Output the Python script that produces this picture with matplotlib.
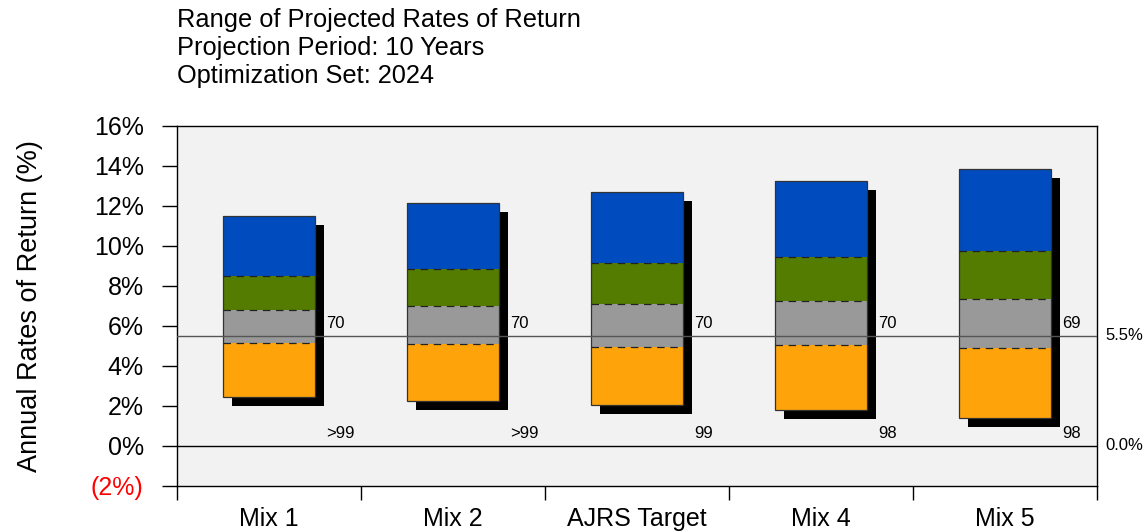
import matplotlib
matplotlib.use("Agg")
import matplotlib.pyplot as plt
import matplotlib.transforms as mtransforms
from matplotlib.ticker import FuncFormatter, FixedLocator

plt.rcParams['font.family'] = ['Liberation Sans', 'DejaVu Sans']

# Data (percentiles of projected annual return, %)
mixes = ['Mix 1', 'Mix 2', 'AJRS Target', 'Mix 4', 'Mix 5']
p5 = [2.45, 2.25, 2.05, 1.80, 1.40]
p25 = [5.15, 5.08, 4.95, 5.03, 4.90]
p50 = [6.80, 7.00, 7.10, 7.23, 7.35]
p75 = [8.50, 8.83, 9.15, 9.43, 9.75]
p95 = [11.50, 12.15, 12.70, 13.25, 13.85]
prob_above_target = ['70', '70', '70', '70', '69']
prob_above_zero = ['>99', '>99', '99', '98', '98']
target_rate = 5.5
yticks = [-2, 0, 2, 4, 6, 8, 10, 12, 14, 16]

colors = ['#ffa30b', '#999999', '#547c00', '#004cbf']  # bottom -> top

fig = plt.figure(figsize=(11.46, 5.32), dpi=100)
ax = fig.add_axes([0.1545, 0.0865, 0.8027, 0.6767])
ax.set_facecolor('#f2f2f2')

width = 0.5
shadow_dx = 9 / 184
shadow_dy = 9 / 20

bounds = [p5, p25, p50, p75, p95]
for i in range(len(mixes)):
    lo, hi = p5[i], p95[i]
    # drop shadow
    ax.bar(i + shadow_dx, hi - lo, width, bottom=lo - shadow_dy,
           color='black', zorder=2)
    # stacked segments
    for k in range(4):
        ax.bar(i, bounds[k + 1][i] - bounds[k][i], width, bottom=bounds[k][i],
               color=colors[k], edgecolor='none', zorder=3)
    # outline
    ax.bar(i, hi - lo, width, bottom=lo, fill=False,
           edgecolor='#333333', linewidth=0.9, zorder=4)
    # dashed internal boundaries
    for k in (1, 2, 3):
        ax.hlines(bounds[k][i], i - width / 2, i + width / 2, colors='#222222',
                  linestyles=(0, (6, 4.5)), linewidth=0.9, zorder=4)
    # probability labels
    ax.text(i + 0.31, 5.9, prob_above_target[i], fontsize=12,
            ha='left', va='baseline', zorder=6)
    ax.text(i + 0.31, 0.4, prob_above_zero[i], fontsize=12,
            ha='left', va='baseline', zorder=6)

ax.axhline(target_rate, color='#555555', linewidth=1, zorder=5)
ax.axhline(0, color='black', linewidth=1, zorder=5)

trans = mtransforms.blended_transform_factory(ax.transAxes, ax.transData)
ax.text(1.0087, target_rate, '5.5%', transform=trans, fontsize=12,
        ha='left', va='center')
ax.text(1.0087, 0, '0.0%', transform=trans, fontsize=12,
        ha='left', va='center')

ax.set_xlim(-0.5, len(mixes) - 0.5)
ax.set_ylim(-2, 16)

# y axis
ax.set_yticks(yticks)
ax.yaxis.set_major_formatter(FuncFormatter(
    lambda v, p: f'({abs(v):.0f}%)' if v < 0 else f'{v:.0f}%'))
ax.tick_params(axis='y', direction='out', length=11, width=1, pad=13,
               labelsize=18)
for lbl, v in zip(ax.get_yticklabels(), yticks):
    if v < 0:
        lbl.set_color('red')
ax.set_ylabel('Annual Rates of Return (%)', fontsize=19.5)
ax.yaxis.set_label_coords(-0.146, 0.5)

# x axis: boundary ticks, labels at centers
ax.xaxis.set_major_locator(FixedLocator([i - 0.5 for i in range(len(mixes) + 1)]))
ax.xaxis.set_major_formatter(FuncFormatter(lambda v, p: ''))
ax.xaxis.set_minor_locator(FixedLocator(range(len(mixes))))
ax.set_xticklabels(mixes, minor=True)
ax.tick_params(axis='x', which='major', direction='out', length=10, width=1)
ax.tick_params(axis='x', which='minor', length=0, pad=15, labelsize=18)

for s in ax.spines.values():
    s.set_linewidth(1)
    s.set_color('black')

# title block
title_lines = ['Range of Projected Rates of Return',
               'Projection Period: 10 Years',
               'Optimization Set: 2024']
for j, t in enumerate(title_lines):
    fig.text(0.1545, 1 - (27 + 28 * j) / 532, t, fontsize=18.3,
             ha='left', va='baseline')

fig.savefig('out.png', dpi=100)
